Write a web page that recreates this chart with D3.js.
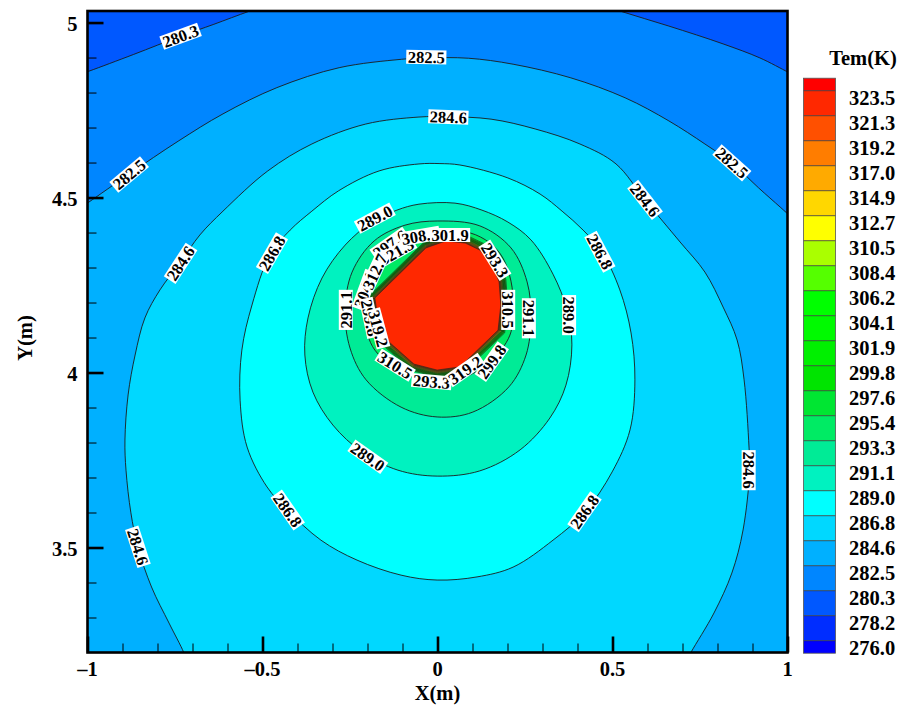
<!DOCTYPE html>
<html>
<head>
<meta charset="utf-8">
<script src="https://cdn.jsdelivr.net/npm/d3@7"></script>
<style>
  html, body { margin: 0; padding: 0; background: #fff; }
  svg { display: block; }
  text { font-family: "Liberation Serif", "Times New Roman", serif; font-weight: bold; fill: #000; }
</style>
</head>
<body>
<svg id="chart" width="904" height="709"></svg>
<script>
// ---- contour levels (K), lowest to highest ----
const levels = [276.0, 278.2, 280.3, 282.5, 284.6, 286.8, 289.0, 291.1, 293.3, 295.4, 297.6, 299.8,
                301.9, 304.1, 306.2, 308.4, 310.5, 312.7, 314.9, 317.0, 319.2, 321.3, 323.5];

// ---- flood colours: below first level, each interval, above last level ----
const bandColors = ["#0000ff", "#002dff", "#0058ff", "#0086ff", "#00b0ff", "#00d8ff", "#00ffff",
                    "#00f2c0", "#00eb96", "#00eb64", "#00e632", "#00e400", "#00f000", "#00fa00",
                    "#00ff00", "#55ff00", "#aaff00", "#ffff00", "#ffd700", "#ffaa00", "#ff7d00",
                    "#ff5000", "#ff2800", "#ff0000"];

// ---- axis ticks ----
const xTicks = [-1, -0.5, 0, 0.5, 1];
const xTickText = ["\u20131", "\u20130.5", "0", "0.5", "1"];
const yTicks = [3.5, 4, 4.5, 5];
const yTickText = ["3.5", "4", "4.5", "5"];

// ---- isotherms, points in metres (X, Y) ----
const arc280_3 = [[-1.036,4.847],[-0.996,4.861],[-0.868,4.909],[-0.734,4.961],[-0.639,4.995],[-0.536,5.033],
  [-0.393,5.081],[-0.193,5.113],[-0.001,5.124],[0.193,5.113],[0.379,5.081],[0.521,5.033],[0.661,4.990],
  [0.816,4.939],[0.921,4.899],[1.004,4.857],[1.036,4.841]];
const arc282_5 = [[-1.025,4.467],[-0.996,4.487],[-0.881,4.567],[-0.741,4.661],[-0.613,4.739],[-0.459,4.814],
  [-0.281,4.871],[-0.103,4.895],[-0.033,4.899],[0.089,4.898],[0.216,4.881],[0.381,4.842],[0.536,4.785],
  [0.661,4.719],[0.764,4.653],[0.841,4.599],[0.917,4.528],[0.981,4.471],[1.030,4.427]];
const arc284_6 = [[-0.716,3.173],[-0.725,3.200],[-0.767,3.284],[-0.817,3.387],[-0.856,3.501],[-0.876,3.599],
  [-0.890,3.721],[-0.893,3.807],[-0.884,3.936],[-0.864,4.050],[-0.836,4.156],[-0.793,4.236],[-0.736,4.313],
  [-0.679,4.393],[-0.613,4.461],[-0.485,4.576],[-0.359,4.653],[-0.205,4.710],[-0.053,4.730],[0.030,4.731],
  [0.153,4.724],[0.279,4.696],[0.407,4.653],[0.510,4.596],[0.593,4.493],[0.693,4.373],[0.764,4.287],
  [0.816,4.187],[0.856,4.093],[0.876,3.979],[0.890,3.787],[0.892,3.721],[0.873,3.550],[0.841,3.427],
  [0.790,3.313],[0.724,3.200],[0.710,3.173]];
const loop286_8 = [[-0.359,4.461],[-0.283,4.519],[-0.167,4.576],[-0.053,4.596],[0.007,4.597],[0.064,4.593],
  [0.201,4.556],[0.293,4.510],[0.356,4.461],[0.416,4.407],[0.470,4.344],[0.521,4.236],[0.553,4.113],
  [0.564,3.979],[0.550,3.836],[0.499,3.716],[0.421,3.601],[0.330,3.521],[0.216,3.444],[0.113,3.416],
  [-0.001,3.407],[-0.104,3.421],[-0.230,3.464],[-0.333,3.521],[-0.429,3.607],[-0.487,3.673],[-0.544,3.787],
  [-0.564,3.921],[-0.559,4.064],[-0.530,4.193],[-0.479,4.336],[-0.421,4.407]];
const loop289_0 = [[-0.053,4.481],[0.050,4.484],[0.127,4.464],[0.201,4.430],[0.267,4.379],[0.330,4.281],
  [0.370,4.179],[0.384,4.079],[0.367,3.964],[0.321,3.870],[0.236,3.779],[0.121,3.719],[-0.001,3.704],
  [-0.113,3.721],[-0.216,3.773],[-0.299,3.850],[-0.356,3.944],[-0.379,4.050],[-0.370,4.156],[-0.330,4.270],
  [-0.264,4.364],[-0.187,4.430],[-0.116,4.464]];
const loop291_1 = [[0.001,4.433],[0.121,4.419],[0.210,4.356],[0.256,4.259],[0.267,4.156],[0.253,4.050],
  [0.204,3.959],[0.101,3.887],[-0.001,3.873],[-0.104,3.901],[-0.204,3.979],[-0.250,4.070],[-0.264,4.179],
  [-0.244,4.287],[-0.181,4.376],[-0.093,4.421]];
const loop293_3 = [[0.024,4.404],[0.093,4.399],[0.150,4.370],[0.187,4.327],[0.210,4.261],[0.216,4.190],
  [0.207,4.107],[0.150,4.030],[0.070,3.984],[-0.001,3.973],[-0.079,3.990],[-0.179,4.064],[-0.210,4.156],
  [-0.210,4.227],[-0.164,4.307],[-0.093,4.364],[-0.036,4.390]];
// pipe wall (321.3 K isotherm), faceted by the mesh
const pipeEdge = [[-0.033,4.356],[0.024,4.376],[0.079,4.370],[0.121,4.350],[0.156,4.313],[0.176,4.259],
  [0.181,4.193],[0.173,4.121],[0.064,4.016],[-0.001,4.007],[-0.067,4.024],[-0.164,4.110],[-0.179,4.213]];
const pipeCenter = [0.001, 4.190];
// tightly packed isotherms hugging the pipe wall, as size relative to the wall
const ringLevels = [295.4, 297.6, 299.8, 301.9, 304.1, 306.2, 308.4, 310.5, 312.7, 314.9, 317.0, 319.2];
const ringScale  = [1.110, 1.096, 1.085, 1.075, 1.066, 1.057, 1.048, 1.040, 1.032, 1.024, 1.016, 1.008];

// ---- in-line contour labels: level, X, Y (m), angle (deg) ----
const contourLabels = [
  [280.3, -0.734, 4.961, -20], [282.5, -0.032, 4.901, 1], [282.5, -0.881, 4.566, -40], [282.5, 0.841, 4.599, 42],
  [284.6, 0.031, 4.730, 2], [284.6, -0.734, 4.312, -57], [284.6, 0.593, 4.493, 52], [284.6, 0.889, 3.721, 90],
  [284.6, -0.856, 3.502, 72], [286.8, -0.473, 4.341, -60], [286.8, 0.464, 4.345, 62], [286.8, -0.428, 3.607, 55],
  [286.8, 0.420, 3.602, -55], [289.0, -0.179, 4.441, -28], [289.0, 0.376, 4.164, 90], [289.0, -0.199, 3.759, 35],
  [291.1, -0.262, 4.179, -90], [291.1, 0.261, 4.155, 90],
  [297.6, -0.136, 4.367, -35], [321.3, -0.117, 4.345, -30], [308.4, -0.050, 4.390, -10], [301.9, 0.036, 4.393, 0],
  [293.3, 0.164, 4.321, 58], [304.1, -0.207, 4.236, -70], [312.7, -0.179, 4.288, -65], [299.8, -0.193, 4.156, 78],
  [319.2, -0.169, 4.126, 75], [310.5, -0.121, 4.021, 32], [293.3, -0.017, 3.974, 5], [299.8, 0.155, 4.031, -55],
  [319.2, 0.079, 4.007, -35], [310.5, 0.202, 4.179, 90]
];

// ---- layout ----
const W = 904, H = 709;
const plot = { left: 87.5, right: 787.5, top: 11, bottom: 652.5 };
const fontMain = 20.5, fontLabel = 16.5;

const x = d3.scaleLinear().domain([-1, 1]).range([plot.left, plot.right]);
const y = d3.scaleLinear().domain([3.2, 5.033]).range([plot.bottom, plot.top]);

const svg = d3.select("#chart");
svg.append("rect").attr("width", W).attr("height", H).attr("fill", "#fff");

svg.append("defs").append("clipPath").attr("id", "plotClip").append("rect")
  .attr("x", plot.left).attr("y", plot.top)
  .attr("width", plot.right - plot.left).attr("height", plot.bottom - plot.top);

const colorAbove = lv => bandColors[levels.indexOf(lv) + 1];

const openCurve = d3.line().x(d => x(d[0])).y(d => y(d[1])).curve(d3.curveCatmullRom.alpha(0.5));
const smoothLoop = d3.line().x(d => x(d[0])).y(d => y(d[1])).curve(d3.curveCatmullRomClosed.alpha(0.5));
const polyLoop = d3.line().x(d => x(d[0])).y(d => y(d[1])).curve(d3.curveLinearClosed);

// assemble the isotherm set
const contours = [
  { level: 280.3, pts: arc280_3, shape: "edge" },
  { level: 282.5, pts: arc282_5, shape: "edge" },
  { level: 284.6, pts: arc284_6, shape: "bottom" },
  { level: 286.8, pts: loop286_8, shape: "smooth" },
  { level: 289.0, pts: loop289_0, shape: "smooth" },
  { level: 291.1, pts: loop291_1, shape: "smooth" },
  { level: 293.3, pts: loop293_3, shape: "smooth" }
];
ringLevels.forEach((lv, i) => {
  const s = ringScale[i];
  contours.push({
    level: lv, shape: "poly",
    pts: pipeEdge.map(p => [pipeCenter[0] + (p[0] - pipeCenter[0]) * s, pipeCenter[1] + (p[1] - pipeCenter[1]) * s])
  });
});
contours.push({ level: 321.3, pts: pipeEdge, shape: "poly" });

function fillPath(c) {
  if (c.shape === "edge") {
    return openCurve(c.pts) + `L${x(1.1)},${y(3.0)}L${x(-1.1)},${y(3.0)}Z`;
  }
  if (c.shape === "bottom") return openCurve(c.pts) + "Z";
  if (c.shape === "smooth") return smoothLoop(c.pts);
  return polyLoop(c.pts);
}
function strokePath(c) {
  if (c.shape === "edge" || c.shape === "bottom") return openCurve(c.pts);
  if (c.shape === "smooth") return smoothLoop(c.pts);
  return polyLoop(c.pts);
}

const field = svg.append("g").attr("clip-path", "url(#plotClip)");
// coldest visible band fills the whole domain first
field.append("rect")
  .attr("x", plot.left).attr("y", plot.top)
  .attr("width", plot.right - plot.left).attr("height", plot.bottom - plot.top)
  .attr("fill", bandColors[levels.indexOf(280.3)]);

field.selectAll("path.band").data(contours).join("path")
  .attr("class", "band")
  .attr("d", fillPath)
  .attr("fill", d => colorAbove(d.level))
  .attr("stroke", "none");

field.selectAll("path.iso").data(contours).join("path")
  .attr("class", "iso")
  .attr("d", strokePath)
  .attr("fill", "none")
  .attr("stroke", "#1c1c1c")
  .attr("stroke-width", d => d.shape === "poly" ? 0.6 : 0.9);

function addText(parent, px, py, str, size, anchor, angle) {
  return parent.append("text")
    .attr("transform", `translate(${px},${py}) rotate(${angle || 0})`)
    .attr("text-anchor", anchor)
    .attr("dy", "0.35em")
    .attr("font-size", size)
    .text(str);
}

// in-line contour labels on white boxes
const labelLayer = svg.append("g").attr("clip-path", "url(#plotClip)");
contourLabels.forEach(([lv, lx, ly, ang]) => {
  const g = labelLayer.append("g").attr("transform", `translate(${x(lx)},${y(ly)}) rotate(${ang})`);
  const rect = g.append("rect").attr("fill", "#fff");
  const t = g.append("text")
    .attr("text-anchor", "middle")
    .attr("dy", "0.35em")
    .attr("font-size", fontLabel)
    .text(lv.toFixed(1));
  const w = t.node().getComputedTextLength() + 3;
  rect.attr("x", -w / 2).attr("y", -7).attr("width", w).attr("height", 14);
});

// ---- axes: ticks point into the plot ----
const xMinor = d3.range(-10, 11).map(d => d / 10);
const yMinor = d3.range(33, 51).map(d => d / 10);

const axX = svg.append("g").attr("transform", `translate(0,${plot.bottom})`);
axX.append("g").call(d3.axisBottom(x).tickValues(xMinor).tickSize(-9).tickFormat(""))
  .call(g => g.select(".domain").remove())
  .call(g => g.selectAll("line").attr("stroke", "#000").attr("stroke-width", 1));
axX.append("g").call(d3.axisBottom(x).tickValues(xTicks).tickSize(-16).tickFormat(""))
  .call(g => g.select(".domain").remove())
  .call(g => g.selectAll("line").attr("stroke", "#000").attr("stroke-width", 2.6));

const axY = svg.append("g").attr("transform", `translate(${plot.left},0)`);
axY.append("g").call(d3.axisLeft(y).tickValues(yMinor).tickSize(-9).tickFormat(""))
  .call(g => g.select(".domain").remove())
  .call(g => g.selectAll("line").attr("stroke", "#000").attr("stroke-width", 1));
axY.append("g").call(d3.axisLeft(y).tickValues(yTicks).tickSize(-16).tickFormat(""))
  .call(g => g.select(".domain").remove())
  .call(g => g.selectAll("line").attr("stroke", "#000").attr("stroke-width", 2.6));

// frame
svg.append("rect")
  .attr("x", plot.left).attr("y", plot.top)
  .attr("width", plot.right - plot.left).attr("height", plot.bottom - plot.top)
  .attr("fill", "none").attr("stroke", "#000").attr("stroke-width", 2.6);

// tick labels
xTicks.forEach((v, i) => addText(svg, x(v), plot.bottom + 16.5, xTickText[i], fontMain, "middle"));
yTicks.forEach((v, i) => addText(svg, plot.left - 10, y(v) + 1.5, yTickText[i], fontMain, "end"));

// axis titles
addText(svg, x(0), 693, "X(m)", fontMain, "middle");
addText(svg, 25, 338, "Y(m)", fontMain, "middle", -90);

// ---- legend ----
const leg = { left: 803.5, width: 32 };
const n = levels.length;
const legendY = d3.scaleLinear().domain([n - 1, 0]).range([90.7, 640.7]);

const legG = svg.append("g");
bandColors.forEach((col, k) => {
  const yTop = legendY(Math.min(k, n - 0.5));
  const yBot = legendY(Math.max(k - 1, -0.5));
  legG.append("rect")
    .attr("x", leg.left).attr("y", yTop)
    .attr("width", leg.width).attr("height", yBot - yTop)
    .attr("fill", col);
});
levels.forEach((lv, i) => {
  legG.append("line")
    .attr("x1", leg.left).attr("x2", leg.left + leg.width)
    .attr("y1", legendY(i)).attr("y2", legendY(i))
    .attr("stroke", "#333").attr("stroke-width", 0.8);
  addText(legG, 849, legendY(i) + 7, lv.toFixed(1), fontMain, "start");
});
legG.append("rect")
  .attr("x", leg.left).attr("y", legendY(n - 0.5))
  .attr("width", leg.width).attr("height", legendY(-0.5) - legendY(n - 0.5))
  .attr("fill", "none").attr("stroke", "#555").attr("stroke-width", 0.8);

addText(svg, 863, 58, "Tem(K)", fontMain, "middle");
</script>
</body>
</html>
